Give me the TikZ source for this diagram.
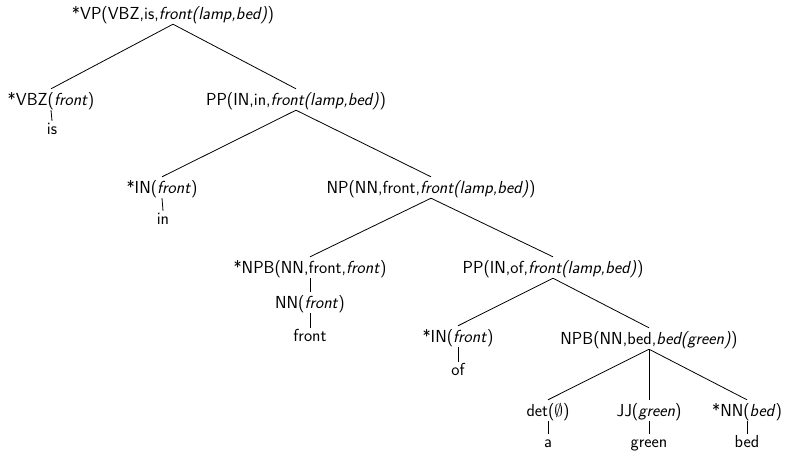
\documentclass[tikz,border=0pt]{standalone}
\begin{document}
\begin{tikzpicture}[x=1pt,y=-1pt,
  lbl/.style={anchor=base,inner sep=0pt,text height=16pt,text depth=5pt,
    font=\fontsize{17.4}{20}\selectfont\sffamily},
  leaf/.style={lbl,text height=13pt},
  edge/.style={line width=0.8pt}]
\useasboundingbox (0,0) rectangle (787,451);
% tree nodes
\node[lbl] (vp)   at (173,19)  {*VP(VBZ,is,\textsl{front(lamp,bed)})};
\node[lbl] (vbz)  at (51,105)  {*VBZ(\textsl{front})};
\node[leaf] (is)   at (52,134)  {is};
\node[lbl] (pp1)  at (296,105) {PP(IN,in,\textsl{front(lamp,bed)})};
\node[lbl] (in1)  at (162,193) {*IN(\textsl{front})};
\node[leaf] (in)   at (163,224) {in};
\node[lbl] (np)   at (431,193) {NP(NN,front,\textsl{front(lamp,bed)})};
\node[lbl] (npb1) at (310,273) {*NPB(NN,front,\textsl{front})};
\node[lbl] (nn1)  at (310,308) {NN(\textsl{front})};
\node[leaf] (front) at (310,341) {front};
\node[lbl] (pp2)  at (553,273) {PP(IN,of,\textsl{front(lamp,bed)})};
\node[lbl] (in2)  at (458,342) {*IN(\textsl{front})};
\node[leaf] (of)   at (458,375) {of};
\node[lbl] (npb2) at (649,344) {NPB(NN,bed,\textsl{bed(green)})};
\node[lbl] (det)  at (548,416) {det($\emptyset$)};
\node[leaf] (a)    at (548,447) {a};
\node[lbl] (jj)   at (649,416) {JJ(\textsl{green})};
\node[leaf] (green) at (649,447) {green};
\node[lbl] (nn2)  at (747,416) {*NN(\textsl{bed})};
\node[leaf] (bed)  at (747,447) {bed};
% branches
\draw[edge] (vp.south) -- (vbz.north);
\draw[edge] (vp.south) -- (pp1.north);
\draw[edge] (vbz.south) -- (is.north);
\draw[edge] (pp1.south) -- (in1.north);
\draw[edge] (pp1.south) -- (np.north);
\draw[edge] (in1.south) -- (in.north);
\draw[edge] (np.south) -- (npb1.north);
\draw[edge] (np.south) -- (pp2.north);
\draw[edge] (npb1.south) -- (nn1.north);
\draw[edge] (nn1.south) -- (front.north);
\draw[edge] (pp2.south) -- (in2.north);
\draw[edge] (pp2.south) -- (npb2.north);
\draw[edge] (in2.south) -- (of.north);
\draw[edge] (npb2.south) -- (det.north);
\draw[edge] (npb2.south) -- (jj.north);
\draw[edge] (npb2.south) -- (nn2.north);
\draw[edge] (det.south) -- (a.north);
\draw[edge] (jj.south) -- (green.north);
\draw[edge] (nn2.south) -- (bed.north);
\end{tikzpicture}
\end{document}
